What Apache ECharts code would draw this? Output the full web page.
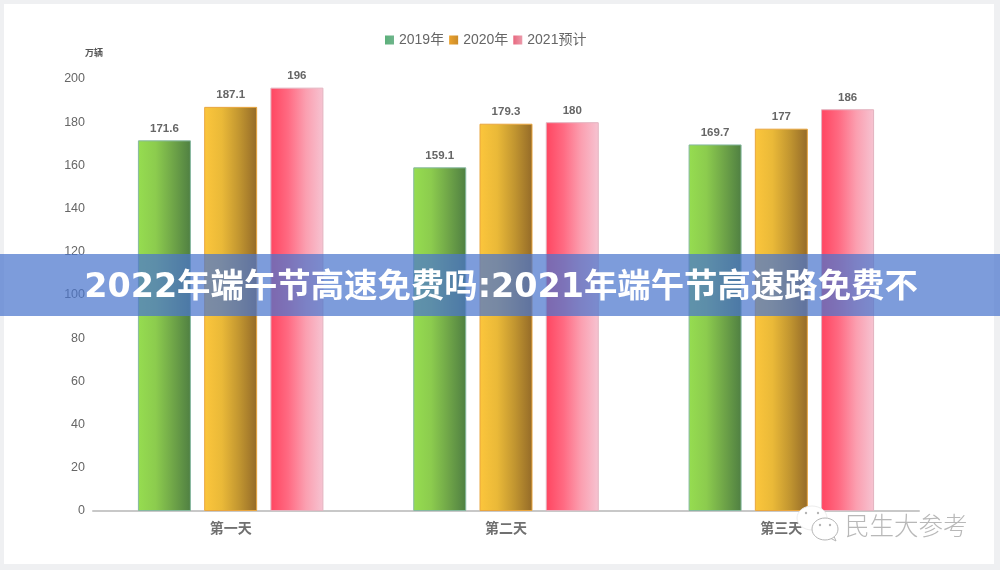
<!DOCTYPE html>
<html>
<head>
<meta charset="utf-8">
<style>
html,body{margin:0;padding:0;background:#eff0f2;overflow:hidden;}
#card{position:absolute;left:4px;top:4px;width:990px;height:560px;background:#fff;}
#chart{position:absolute;left:0;top:0;width:1000px;height:570px;}
</style>
<script src="https://cdn.jsdelivr.net/npm/echarts@6/dist/echarts.min.js"></script>
</head>
<body>
<div id="card"></div>
<div id="chart"></div>
<script>
// Holiday expressway traffic for the three days of the festival, in 10k vehicles
const days = ['第一天', '第二天', '第三天'];
const yearNames = ['2019年', '2020年', '2021预计'];
const traffic2019 = [171.6, 159.1, 169.7];
const traffic2020 = [187.1, 179.3, 177];
const traffic2021 = [196, 180, 186];
const yTicks = [0, 20, 40, 60, 80, 100, 120, 140, 160, 180, 200];
const headline = '2022年端午节高速免费吗:2021年端午节高速路免费不';
const watermark = '民生大参考';
const unit = '万辆';

const fontFamily = '"Liberation Sans","Noto Sans CJK SC",sans-serif';

function sideGradient(stops) {
  return new echarts.graphic.LinearGradient(0, 0, 1, 0,
    stops.map((c, i) => ({ offset: i / (stops.length - 1), color: c })));
}

function barSeries(name, values, stops, edge) {
  return {
    name, type: 'bar', data: values, barWidth: 53, barGap: '25%',
    itemStyle: { color: sideGradient(stops), borderColor: edge, borderWidth: 1 },
    label: {
      show: true, position: 'top', distance: 6,
      color: '#666', fontSize: 11.5, fontWeight: 'bold', fontFamily
    }
  };
}

function legendEntry(name, stops) {
  return { name, icon: 'rect', itemStyle: { color: sideGradient(stops), borderWidth: 0 } };
}

// Small grey dots used as the eyes of the chat bubbles
function eye(cx, cy) {
  return { type: 'circle', z: 23, shape: { cx, cy, r: 1.2 }, style: { fill: '#b5b5b5' } };
}

const chart = echarts.init(document.getElementById('chart'));
chart.setOption({
  animation: false,
  legend: {
    top: 28, left: 380,
    itemWidth: 9, itemHeight: 9, itemGap: 5,
    textStyle: { color: '#666', fontSize: 14, fontFamily },
    data: [
      legendEntry(yearNames[0], ['#5cb07a', '#6fb58c']),
      legendEntry(yearNames[1], ['#eba22c', '#cb8c2a']),
      legendEntry(yearNames[2], ['#e8687f', '#eb9bab'])
    ]
  },
  grid: { left: 93, right: 81, top: 79, bottom: 59 },
  xAxis: {
    type: 'category', data: days,
    axisLine: { lineStyle: { color: '#c8c8c8', width: 2 } },
    axisTick: { show: false },
    axisLabel: { color: '#707070', fontSize: 14, fontWeight: 'bold', margin: 11, fontFamily }
  },
  yAxis: {
    type: 'value', min: yTicks[0], max: yTicks[yTicks.length - 1], interval: yTicks[1] - yTicks[0],
    name: unit, nameLocation: 'end', nameGap: 21,
    nameTextStyle: { color: '#555', fontSize: 9, fontWeight: 'bold', fontFamily, align: 'center', padding: [0, 0, 0, 2] },
    axisLine: { show: false }, axisTick: { show: false }, splitLine: { show: false },
    axisLabel: { color: '#666', fontSize: 12.5, margin: 8, fontFamily }
  },
  series: [
    barSeries(yearNames[0], traffic2019, ['#96dd50', '#8ccc4e', '#6fa548', '#4f7f42'], '#86b8a0'),
    barSeries(yearNames[1], traffic2020, ['#fcc63c', '#eab938', '#c19530', '#946a28'], '#e9a640'),
    barSeries(yearNames[2], traffic2021, ['#ff4560', '#ff6a82', '#fb9fb0', '#f6c4d2'], '#e3b4c0')
  ],
  graphic: [
    // Account watermark: two chat bubbles and the account name
    { type: 'ellipse', z: 21, shape: { cx: 812, cy: 518, rx: 15, ry: 12 },
      style: { fill: '#fff', stroke: '#ececec', lineWidth: 1 } },
    eye(806, 513), eye(818, 513),
    { type: 'polygon', z: 22, shape: { points: [[828, 537], [836, 541], [833, 534]] },
      style: { fill: '#fff', stroke: '#b5b5b5', lineWidth: 1 } },
    { type: 'ellipse', z: 22, shape: { cx: 825, cy: 529, rx: 13, ry: 11 },
      style: { fill: '#fff', stroke: '#b5b5b5', lineWidth: 1 } },
    eye(820, 525), eye(830, 525),
    { type: 'text', z: 21, x: 845, y: 526,
      style: { text: watermark, fill: '#b8b8b8', verticalAlign: 'middle',
        font: '300 24.5px "Noto Sans CJK SC"' } },
    // Headline band across the middle of the chart
    { type: 'rect', z: 30, shape: { x: 0, y: 254, width: 1000, height: 62 },
      style: { fill: 'rgba(75,118,205,0.72)' } },
    { type: 'text', z: 31, x: 501, y: 288,
      style: { text: headline, fill: '#fff', align: 'center', verticalAlign: 'middle',
        font: 'bold 33.4px "DejaVu Sans","Noto Sans CJK SC"' } }
  ]
});
</script>
</body>
</html>
